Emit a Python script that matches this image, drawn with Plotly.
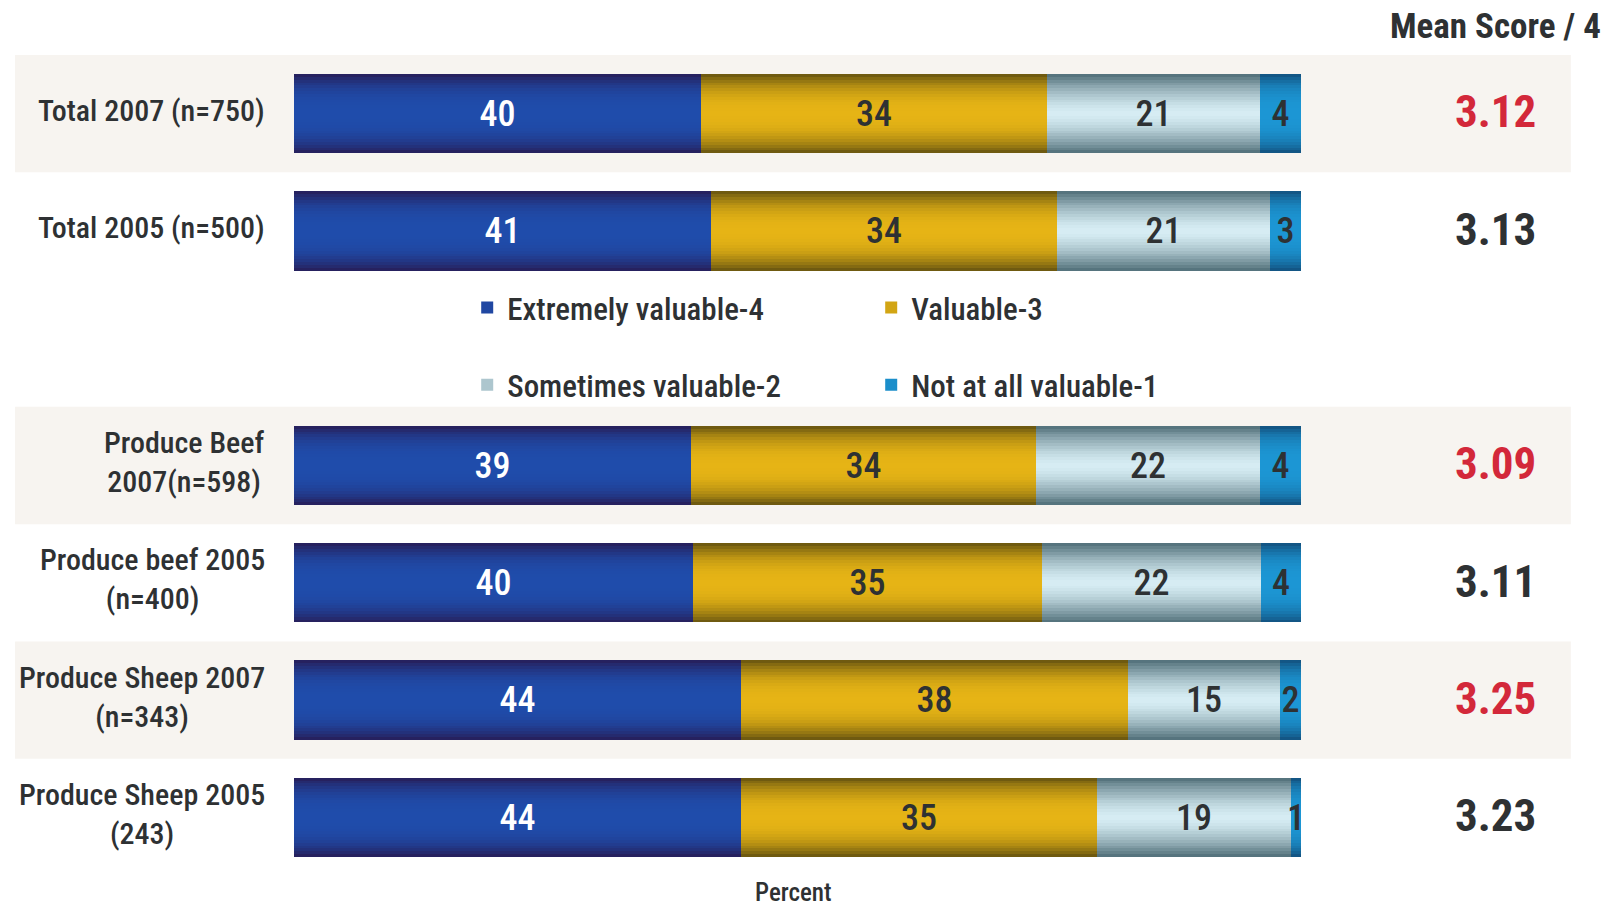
import plotly.graph_objects as go

# ---- data -------------------------------------------------------------
categories = [
    "Total 2007 (n=750)",
    "Total 2005 (n=500)",
    "Produce Beef<br>2007(n=598)",
    "Produce beef 2005<br>(n=400)",
    "Produce Sheep 2007<br>(n=343)",
    "Produce Sheep 2005<br>(243)",
]
extremely_valuable = [40, 41, 39, 40, 44, 44]
valuable = [34, 34, 34, 35, 38, 35]
sometimes_valuable = [21, 21, 22, 22, 15, 19]
not_at_all_valuable = [4, 3, 4, 4, 2, 1]
mean_score = [3.12, 3.13, 3.09, 3.11, 3.25, 3.23]
is_2007 = [True, False, True, False, True, False]

series_names = [
    "Extremely valuable-4",
    "Valuable-3",
    "Sometimes valuable-2",
    "Not at all valuable-1",
]
series_values = [extremely_valuable, valuable, sometimes_valuable, not_at_all_valuable]

# ---- styling ----------------------------------------------------------
FONT = "Liberation Sans Narrow, Arial Narrow, Roboto Condensed, Liberation Sans, sans-serif"
TEXT_DARK = "#2e3133"
RED = "#d3283a"
BAND = "#f7f4f0"

# (edge colour, centre colour, label colour, shading exponent) per series
series_style = [
    ("#26215f", "#1f4cab", "#ffffff", 3.0),
    ("#6f5a10", "#e6b415", TEXT_DARK, 2.6),
    ("#56747e", "#d8eef5", TEXT_DARK, 1.6),
    ("#135685", "#1c96d4", TEXT_DARK, 3.0),
]
series_legend = ["legend", "legend", "legend2", "legend2"]

# rows: the two totals, then a gap slot holding the legend, then the rest
rows = [i if i < 2 else i + 1 for i in range(len(categories))]

BAR_W = 0.675
N_LAYERS = 14  # cylinder-like shading built from nested, narrowing layers


def mix(c1, c2, t):
    a = [int(c1[i:i + 2], 16) for i in (1, 3, 5)]
    b = [int(c2[i:i + 2], 16) for i in (1, 3, 5)]
    return "#" + "".join(f"{round(x + (y - x) * t):02x}" for x, y in zip(a, b))


fig = go.Figure()
for k in range(N_LAYERS):
    frac = 1 - k / N_LAYERS
    yaxis = "y" if k == 0 else f"y{k + 1}"
    top = k == N_LAYERS - 1
    legend_layer = k == N_LAYERS // 2
    for name, vals, (edge, centre, lab, p), leg in zip(series_names, series_values,
                                                       series_style, series_legend):
        fig.add_trace(go.Bar(
            x=vals,
            y=rows,
            orientation="h",
            name=name,
            yaxis=yaxis,
            width=BAR_W * frac,
            marker=dict(color=mix(edge, centre, 1 - frac ** p), line=dict(width=0)),
            showlegend=legend_layer,
            legend=leg,
            text=[str(v) for v in vals] if top else None,
            textposition="inside" if top else "none",
            insidetextanchor="middle",
            textangle=0,
            constraintext="none",
            textfont=dict(family=FONT, size=36, color=lab, weight=500),
            hoverinfo="skip",
        ))

y_range = [max(rows) + 0.5, -0.5]
x_range = [0, 100.02]
layout_axes = {}
for k in range(1, N_LAYERS):
    layout_axes[f"yaxis{k + 1}"] = dict(overlaying="y", range=y_range, visible=False,
                                        fixedrange=True)

# shaded bands behind the 2007 rows
shapes = []
for r, hl in zip(rows, is_2007):
    if hl:
        shapes.append(dict(type="rect", xref="paper", yref="y", x0=-0.277, x1=1.268,
                           y0=r - 0.5, y1=r + 0.5, fillcolor=BAND, line=dict(width=0),
                           layer="below"))

annotations = []
for cat, r in zip(categories, rows):
    annotations.append(dict(text=cat, xref="paper", yref="y", x=-0.027, y=r - 0.03,
                            xanchor="right", yanchor="middle", align="center",
                            showarrow=False,
                            font=dict(family=FONT, size=30, color=TEXT_DARK, weight=500)))
for m, r, hl in zip(mean_score, rows, is_2007):
    annotations.append(dict(text=f"{m:.2f}", xref="paper", yref="y", x=1.193, y=r - 0.015,
                            xanchor="center", yanchor="middle", showarrow=False,
                            font=dict(family=FONT, size=45, color=RED if hl else TEXT_DARK,
                                      weight=700)))
annotations.append(dict(text="Mean Score / 4", xref="paper", yref="paper",
                        x=1.193, y=1.035, xanchor="center", yanchor="middle",
                        showarrow=False,
                        font=dict(family=FONT, size=35, color=TEXT_DARK, weight=700)))
annotations.append(dict(text="Percent", xref="paper", yref="paper", x=0.4965, y=-0.02,
                        xanchor="center", yanchor="middle", showarrow=False,
                        font=dict(family=FONT, size=25, color=TEXT_DARK, weight=500)))

legend_common = dict(orientation="h", xanchor="left", yanchor="middle",
                     entrywidth=359, bgcolor="rgba(0,0,0,0)",
                     font=dict(family=FONT, size=31, color=TEXT_DARK, weight=500),
                     traceorder="normal")

fig.update_layout(
    width=1610,
    height=909,
    margin=dict(l=294, r=309, t=55, b=33),
    paper_bgcolor="#ffffff",
    plot_bgcolor="rgba(0,0,0,0)",
    barmode="stack",
    barnorm="percent",
    bargap=0,
    xaxis=dict(range=x_range, visible=False, fixedrange=True),
    yaxis=dict(range=y_range, visible=False, fixedrange=True),
    shapes=shapes,
    annotations=annotations,
    legend=dict(x=0.172, y=0.692, **legend_common),
    legend2=dict(x=0.172, y=0.598, **legend_common),
    showlegend=True,
    **layout_axes,
)

fig.write_html("out.html")
